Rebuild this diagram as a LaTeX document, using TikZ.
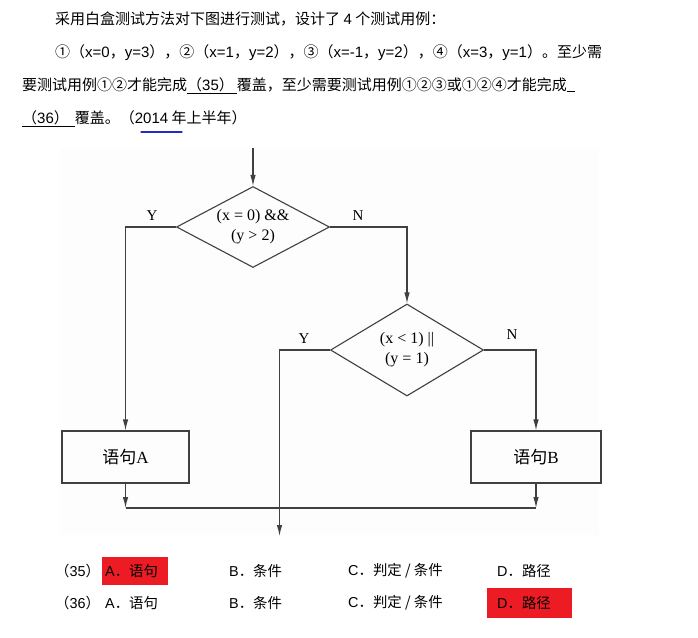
\documentclass[tikz,border=0pt]{standalone}
\usepackage{fontspec}
\setmainfont{Liberation Serif}
\newfontfamily\cjk{Noto Sans CJK SC}
\newfontfamily\arial{Liberation Sans}
\usetikzlibrary{arrows.meta, positioning, shapes.geometric, calc}

\definecolor{ansred}{RGB}{237,28,36}
\definecolor{penblue}{RGB}{40,40,200}
\newcommand{\ar}[1]{{\arial #1}}
\newcommand{\qfont}{\cjk\fontsize{15}{17}\selectfont}
\newcommand{\ofont}{\cjk\fontsize{14.4}{16}\selectfont}

\tikzset{
  arr/.style={-{Latex[length=11pt,width=5.5pt]}},
  flow/.style={draw=black!75, line width=1.1pt},
  cond/.style={diamond, draw=black!75, line width=1.1pt, inner sep=0pt,
    minimum width=153pt, minimum height=81pt},
  condtext/.style={align=center, inner sep=0pt,
    font=\fontsize{16}{20}\selectfont},
  stmt/.style={rectangle, draw=black!75, line width=1.1pt,
    minimum height=52pt, font=\cjk\fontsize{17}{17}\selectfont},
  yn/.style={font=\fontsize{15}{15}\selectfont},
  qline/.style={anchor=base west, inner sep=0pt, font=\qfont},
  opt/.style={anchor=west, inner sep=0pt, font=\ofont},
  ansbox/.style={fill=ansred, minimum width=66pt, minimum height=28pt,
    inner sep=0pt}
}

\begin{document}
\begin{tikzpicture}[x=1pt, y=-1pt]
      \useasboundingbox (0,0) rectangle (698,637);

      % question text
      \node[qline] (q1) at (55,24) {采用白盒测试方法对下图进行测试，设计了 \ar{4} 个测试用例：};
      \node[qline] (q2) at (55,57) {①（\ar{x=0}，\ar{y=3}），②（\ar{x=1}，\ar{y=2}），③（\ar{x=-1}，\ar{y=2}），④（\ar{x=3}，\ar{y=1}）。至少需};
      \node[qline] (q3) at (22,90) {要测试用例①②才能完成\underline{（\ar{35}）\hspace{3pt}}覆盖，至少需要测试用例①②③或①②④才能完成\underline{\hspace{8pt}}};
      \node[qline] (q4) at (22,123) {\underline{（\ar{36}）\hspace{6pt}}覆盖。（\ar{2014} 年上半年）};
      \draw[penblue, line width=1.2pt, line cap=round] (141,132) -- (182,132);

      % flow chart area
      \fill[black!0.8] (60,148) rectangle (599,535);

      \node[cond] (d1) at (253,227) {};
      \node[condtext] (t1) at (d1) {(x = 0) \&\&\\(y > 2)};
      \node[cond, minimum height=92pt] (d2) at (407,350) {};
      \node[condtext] (t2) at (d2) {(x < 1) ||\\(y = 1)};
      \node[stmt, minimum width=127pt] (boxA) at (125.5,457) {语句{\rmfamily A}};
      \node[stmt, minimum width=130pt] (boxB) at (536,457) {语句{\rmfamily B}};

      \node[yn] (y1) at (152,216) {Y};
      \node[yn] (n1) at (358,216) {N};
      \node[yn] (y2) at (304,339) {Y};
      \node[yn] (n2) at (512,335) {N};

      \coordinate (start) at (253,148);
      \coordinate (exit) at (279.5,536);
      \coordinate (mA) at (125.5,508);
      \coordinate (mB) at (536,508);

      \draw[flow, arr] (start) -- (d1.north);
      \draw[flow, arr] (d1.west) -| (boxA.north);
      \draw[flow, arr] (d1.east) -| (d2.north);
      \draw[flow, arr] (d2.west) -| (exit);
      \draw[flow, arr] (d2.east) -| (boxB.north);
      \draw[flow, arr] (boxA.south) -- (mA);
      \draw[flow, arr] (boxB.south) -- (mB);
      \draw[flow] (mA) -- (mB);

      % answer options
      \node[ansbox] (a35) at (134.5,571) {};
      \node[ansbox, minimum width=85pt, minimum height=30pt] (d36) at (529,603) {};

      \node[opt] (o35) at (55,571) {（\ar{35}）};
      \node[opt] (o35a) at (105,571) {\ar{A}．语句};
      \node[opt] (o35b) at (229,571) {\ar{B}．条件};
      \node[opt] (o35c) at (348,571) {\ar{C}．判定 / 条件};
      \node[opt] (o35d) at (497,571) {\ar{D}．路径};

      \node[opt] (o36) at (55,603) {（\ar{36}）};
      \node[opt] (o36a) at (105,603) {\ar{A}．语句};
      \node[opt] (o36b) at (229,603) {\ar{B}．条件};
      \node[opt] (o36c) at (348,603) {\ar{C}．判定 / 条件};
      \node[opt] (o36d) at (497,603) {\ar{D}．路径};
\end{tikzpicture}
\end{document}
